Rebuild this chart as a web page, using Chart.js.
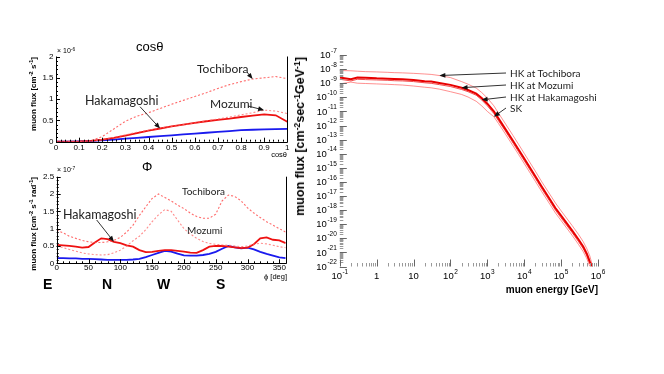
<!DOCTYPE html>
<html>
<head>
<meta charset="utf-8">
<script src="https://cdn.jsdelivr.net/npm/chart.js@4.4.1/dist/chart.umd.min.js"></script>
<style>
  html, body { margin: 0; padding: 0; background: #fff; }
  #page { position: relative; width: 664px; height: 374px; overflow: hidden; font-family: "Liberation Sans", Arial, sans-serif; }
  canvas { position: absolute; }
  .t { position: absolute; white-space: nowrap; line-height: 1; color: #000; }
  .note { font-family: Lato, "Open Sans", sans-serif; color: #222; }
  .rot { transform-origin: 0 0; transform: rotate(-90deg) translateX(-100%); }
  sup { font-size: 70%; vertical-align: 0; position: relative; top: -0.45em; }
</style>
</head>
<body>
<div id="page">
  <canvas id="cosChart" width="300" height="120" style="left:0;top:40px"></canvas>
  <canvas id="phiChart" width="300" height="115" style="left:0;top:160px"></canvas>
  <canvas id="energyChart" width="330" height="250" style="left:290px;top:40px"></canvas>

  <!-- cos(theta) panel -->
  <div class="t" style="left:136px;top:40px;font-size:13px">cosθ</div>
  <div class="t" style="left:57px;top:47px;font-size:7px">× 10<sup>-6</sup></div>
  <div class="t rot" style="left:30px;top:57px;font-size:8px;font-weight:bold">muon flux [cm<sup>-2</sup> s<sup>-1</sup>]</div>
  <div class="t" style="right:377px;top:151px;font-size:7.5px">cosθ</div>
  <div class="t note" style="left:197px;top:63px;font-size:12px">Tochibora</div>
  <div class="t note" style="left:210px;top:98px;font-size:12px">Mozumi</div>
  <div class="t note" style="left:85px;top:95px;font-size:12.5px">Hakamagoshi</div>

  <!-- phi panel -->
  <div class="t" style="left:142px;top:160px;font-size:13px">Φ</div>
  <div class="t" style="left:57px;top:166px;font-size:7px">× 10<sup>-7</sup></div>
  <div class="t rot" style="left:30px;top:177px;font-size:8px;font-weight:bold">muon flux [cm<sup>-2</sup> s<sup>-1</sup> rad<sup>-1</sup>]</div>
  <div class="t" style="right:377px;top:273px;font-size:7.5px">ϕ [deg]</div>
  <div class="t note" style="left:182px;top:186px;font-size:10px">Tochibora</div>
  <div class="t note" style="left:187px;top:225px;font-size:10px">Mozumi</div>
  <div class="t note" style="left:63px;top:209px;font-size:12.5px">Hakamagoshi</div>
  <div class="t" style="left:43px;top:277px;font-size:14px;font-weight:bold">E</div>
  <div class="t" style="left:102px;top:277px;font-size:14px;font-weight:bold">N</div>
  <div class="t" style="left:157px;top:277px;font-size:14px;font-weight:bold">W</div>
  <div class="t" style="left:216px;top:277px;font-size:14px;font-weight:bold">S</div>

  <!-- energy panel -->
  <div class="t rot" style="left:294px;top:57px;font-size:12.5px;font-weight:bold">muon flux [cm<sup>-2</sup>sec<sup>-1</sup>GeV<sup>-1</sup>]</div>
  <div class="t" style="right:66px;top:285px;font-size:10px;font-weight:bold">muon energy [GeV]</div>
  <div class="t note" style="left:510px;top:68px;font-size:10px">HK at Tochibora</div>
  <div class="t note" style="left:510px;top:80px;font-size:10px">HK at Mozumi</div>
  <div class="t note" style="left:510px;top:92px;font-size:10px">HK at Hakamagoshi</div>
  <div class="t note" style="left:510px;top:103px;font-size:10px">SK</div>
</div>

<script>
// ---- zenith distribution (x 10^-6 cm^-2 s^-1) ----
const cosBins = [0, 0.05, 0.1, 0.15, 0.2, 0.25, 0.3, 0.35, 0.4, 0.45, 0.5, 0.55, 0.6, 0.65, 0.7, 0.75, 0.8, 0.85, 0.9, 0.95, 1];
const cosTochibora = [0, 0, 0, 0.02, 0.12, 0.3, 0.48, 0.6, 0.68, 0.78, 0.88, 0.97, 1.06, 1.15, 1.25, 1.34, 1.41, 1.47, 1.5, 1.53, 1.48];
const cosMozumi = [0, 0, 0, 0.01, 0.05, 0.1, 0.16, 0.22, 0.27, 0.32, 0.36, 0.4, 0.44, 0.49, 0.53, 0.58, 0.63, 0.68, 0.74, 0.72, 0.66];
const cosHakamagoshi = [0, 0, 0.005, 0.02, 0.05, 0.09, 0.14, 0.2, 0.26, 0.31, 0.36, 0.4, 0.44, 0.48, 0.51, 0.54, 0.58, 0.61, 0.64, 0.62, 0.47];
const cosSK = [0, 0.002, 0.006, 0.015, 0.03, 0.05, 0.07, 0.09, 0.11, 0.13, 0.15, 0.17, 0.19, 0.21, 0.23, 0.25, 0.27, 0.28, 0.29, 0.295, 0.3];
const cosTicks = [0, 0.1, 0.2, 0.3, 0.4, 0.5, 0.6, 0.7, 0.8, 0.9, 1];
const cosFluxTicks = [0, 0.5, 1, 1.5, 2];

// ---- azimuth distribution (x 10^-7 cm^-2 s^-1 rad^-1) ----
const phiBins = [0, 10, 20, 30, 40, 50, 60, 70, 80, 90, 100, 110, 120, 130, 140, 150, 160, 170, 180, 190, 200, 210, 220, 230, 240, 250, 260, 270, 280, 290, 300, 310, 320, 330, 340, 350, 360];
const phiTochibora = [0.96, 0.88, 0.78, 0.72, 0.66, 0.62, 0.6, 0.6, 0.62, 0.66, 0.75, 0.9, 1.1, 1.38, 1.63, 1.87, 2.0, 1.9, 1.8, 1.68, 1.58, 1.45, 1.35, 1.3, 1.3, 1.42, 1.8, 1.97, 1.93, 1.8, 1.6, 1.45, 1.32, 1.2, 1.1, 1.0, 0.9];
const phiMozumi = [0.5, 0.45, 0.4, 0.35, 0.3, 0.27, 0.25, 0.24, 0.25, 0.3, 0.38, 0.5, 0.65, 0.78, 0.97, 1.2, 1.4, 1.55, 1.5, 1.25, 1.0, 0.85, 0.72, 0.63, 0.57, 0.55, 0.53, 0.52, 0.5, 0.48, 0.5, 0.55, 0.58, 0.56, 0.52, 0.48, 0.45];
const phiHakamagoshi = [0.53, 0.52, 0.5, 0.48, 0.45, 0.47, 0.6, 0.72, 0.7, 0.62, 0.58, 0.52, 0.48, 0.38, 0.32, 0.33, 0.36, 0.38, 0.38, 0.36, 0.34, 0.31, 0.3, 0.38, 0.48, 0.5, 0.5, 0.48, 0.46, 0.44, 0.45, 0.55, 0.72, 0.75, 0.68, 0.66, 0.58];
const phiSK = [0.15, 0.15, 0.14, 0.14, 0.13, 0.13, 0.12, 0.11, 0.1, 0.1, 0.1, 0.1, 0.11, 0.13, 0.18, 0.24, 0.3, 0.36, 0.34, 0.28, 0.23, 0.22, 0.22, 0.24, 0.27, 0.33, 0.42, 0.5, 0.46, 0.43, 0.45, 0.4, 0.33, 0.27, 0.22, 0.17, 0.15];
const phiTicks = [0, 50, 100, 150, 200, 250, 300, 350];
const phiFluxTicks = [0, 0.5, 1, 1.5, 2, 2.5];

// ---- energy spectrum (cm^-2 sec^-1 GeV^-1) ----
const energyGeV = [0.1, 0.2, 0.3, 0.5, 1, 2, 3, 5, 10, 20, 30, 50, 100, 200, 300, 500, 700, 1000, 1500, 2000, 3000, 5000, 7000, 1e4, 2e4, 3e4, 5e4, 7e4, 1e5, 2e5, 3e5, 4e5, 5e5, 6e5, 7e5];
const fluxTochibora = [7.9e-9, 7.6e-9, 7.1e-9, 6.6e-9, 6.3e-9, 5.9e-9, 5.6e-9, 5.4e-9, 5.0e-9, 4.5e-9, 4.2e-9, 3.5e-9, 2.5e-9, 1.3e-9, 8.5e-10, 4.5e-10, 2.2e-10, 8.9e-11, 2.5e-11, 7.6e-12, 1.5e-12, 1.9e-13, 4.7e-14, 1.05e-14, 5.8e-16, 1.0e-16, 1.26e-17, 3.2e-18, 8.9e-19, 7.9e-20, 1.8e-20, 5.6e-21, 1.8e-21, 5.6e-22, 1.26e-22];
const fluxMozumi = [2.5e-9, 1.9e-9, 2.5e-9, 2.4e-9, 2.2e-9, 2.1e-9, 2.0e-9, 1.9e-9, 1.7e-9, 1.4e-9, 1.3e-9, 1.05e-9, 7.6e-10, 4.8e-10, 3.3e-10, 1.8e-10, 8.9e-11, 3.5e-11, 1.0e-11, 3.2e-12, 6.3e-13, 7.9e-14, 2.0e-14, 4.5e-15, 2.5e-16, 4.5e-17, 5.6e-18, 1.4e-18, 4.0e-19, 3.5e-20, 7.9e-21, 2.5e-21, 7.9e-22, 2.2e-22, 1.0e-22];
const fluxHakamagoshi = [1.9e-9, 1.45e-9, 1.9e-9, 1.8e-9, 1.7e-9, 1.6e-9, 1.5e-9, 1.45e-9, 1.3e-9, 1.07e-9, 9.8e-10, 7.9e-10, 5.8e-10, 3.6e-10, 2.5e-10, 1.4e-10, 6.6e-11, 2.5e-11, 7.1e-12, 2.2e-12, 4.5e-13, 5.6e-14, 1.4e-14, 3.2e-15, 1.8e-16, 3.2e-17, 4.0e-18, 1.0e-18, 2.8e-19, 2.5e-20, 5.6e-21, 1.8e-21, 5.6e-22, 1.6e-22, 1.0e-22];
const fluxSK = [8.9e-10, 1.2e-9, 1.0e-9, 9.5e-10, 8.9e-10, 8.3e-10, 7.9e-10, 7.4e-10, 6.3e-10, 5.2e-10, 4.7e-10, 3.8e-10, 2.5e-10, 1.6e-10, 1.05e-10, 5.2e-11, 2.5e-11, 1.0e-11, 4.2e-12, 1.4e-12, 2.8e-13, 3.5e-14, 8.9e-15, 2.0e-15, 1.1e-16, 2.0e-17, 2.5e-18, 6.3e-19, 1.8e-19, 1.6e-20, 3.5e-21, 1.1e-21, 3.5e-22, 1.0e-22, null];
const energyTicks = [0.1, 1, 10, 100, 1e3, 1e4, 1e5, 1e6];
const fluxTicks = [1e-22, 1e-21, 1e-20, 1e-19, 1e-18, 1e-17, 1e-16, 1e-15, 1e-14, 1e-13, 1e-12, 1e-11, 1e-10, 1e-9, 1e-8, 1e-7];

const FONT = '"Liberation Sans", Arial, sans-serif';
Chart.defaults.font.family = FONT;
Chart.defaults.color = '#000';

const pts = (xs, ys) => xs.map((x, i) => ({ x: x, y: ys[i] }));

// ROOT-like frame with inward tick marks
function rootFrame(cfg) {
  return {
    id: 'rootFrame',
    afterDraw(chart) {
      const { ctx, chartArea: a, scales: { x, y } } = chart;
      ctx.save();
      ctx.lineWidth = 1;
      ctx.strokeStyle = cfg.frameColor || '#000';
      if (cfg.frame) {
        ctx.beginPath();
        ctx.moveTo(Math.round(a.left) + 0.5, a.top);
        ctx.lineTo(Math.round(a.left) + 0.5, Math.round(a.bottom) + 0.5);
        ctx.lineTo(Math.round(a.right) + 0.5, Math.round(a.bottom) + 0.5);
        ctx.lineTo(Math.round(a.right) + 0.5, a.top);
        ctx.stroke();
      }
      const tick = (list, len, horizontal, color) => {
        ctx.strokeStyle = color;
        ctx.beginPath();
        list.forEach(v => {
          if (horizontal) {
            const px = Math.round(x.getPixelForValue(v)) + 0.5;
            ctx.moveTo(px, a.bottom); ctx.lineTo(px, a.bottom - len);
          } else {
            const py = Math.round(y.getPixelForValue(v)) + 0.5;
            ctx.moveTo(a.left, py); ctx.lineTo(a.left + len, py);
          }
        });
        ctx.stroke();
      };
      tick(cfg.xMinor || [], cfg.minor, true, cfg.minorColor);
      tick(cfg.yMinor || [], cfg.minor, false, cfg.minorColor);
      tick(cfg.xMajor || [], cfg.major, true, cfg.majorColor);
      tick(cfg.yMajor || [], cfg.major, false, cfg.majorColor);
      ctx.restore();
    }
  };
}

// arrows from a label to a point of a dataset
function pointers(items) {
  return {
    id: 'pointers',
    afterDatasetsDraw(chart) {
      const ctx = chart.ctx;
      items.forEach(p => {
        const el = chart.getDatasetMeta(p.ds).data[p.i];
        const tx = el.x, ty = el.y, fx = p.from[0], fy = p.from[1];
        const ang = Math.atan2(ty - fy, tx - fx);
        const L = 6, W = 2.4;
        ctx.save();
        ctx.strokeStyle = '#333';
        ctx.fillStyle = '#111';
        ctx.lineWidth = 1;
        ctx.beginPath();
        ctx.moveTo(fx, fy);
        ctx.lineTo(tx - 3 * Math.cos(ang), ty - 3 * Math.sin(ang));
        ctx.stroke();
        ctx.beginPath();
        ctx.moveTo(tx, ty);
        ctx.lineTo(tx - L * Math.cos(ang) + W * Math.sin(ang), ty - L * Math.sin(ang) - W * Math.cos(ang));
        ctx.lineTo(tx - L * Math.cos(ang) - W * Math.sin(ang), ty - L * Math.sin(ang) + W * Math.cos(ang));
        ctx.closePath();
        ctx.fill();
        ctx.restore();
      });
    }
  };
}

// power-of-ten labels for the log axes
function drawPow(ctx, v, x, y, align) {
  const e = Math.round(Math.log10(v));
  const base = e === 0 ? '1' : '10';
  const exp = (e === 0 || e === 1) ? '' : String(e);
  ctx.font = '9.5px ' + FONT;
  const wb = ctx.measureText(base).width;
  ctx.font = '6.5px ' + FONT;
  const we = exp ? ctx.measureText(exp).width + 0.5 : 0;
  const x0 = align === 'right' ? x - wb - we : x - (wb + we) / 2;
  ctx.textAlign = 'left';
  ctx.textBaseline = 'middle';
  ctx.font = '9.5px ' + FONT;
  ctx.fillText(base, x0, y);
  if (exp) {
    ctx.font = '6.5px ' + FONT;
    ctx.fillText(exp, x0 + wb + 0.5, y - 4.5);
  }
}
const logLabels = {
  id: 'logLabels',
  afterDraw(chart) {
    const { ctx, chartArea: a, scales: { x, y } } = chart;
    ctx.save();
    ctx.fillStyle = '#000';
    fluxTicks.forEach(v => drawPow(ctx, v, a.left - 3, y.getPixelForValue(v) + 0.5, 'right'));
    energyTicks.forEach(v => drawPow(ctx, v, x.getPixelForValue(v), a.bottom + 10, 'center'));
    ctx.restore();
  }
};

const stepList = (from, to, step) => {
  const out = [];
  for (let v = from; v <= to + 1e-9; v += step) out.push(+v.toFixed(4));
  return out;
};
const logMinor = (e0, e1) => {
  const out = [];
  for (let e = e0; e <= e1; e++) for (let m = 2; m <= 9; m++) out.push(m * Math.pow(10, e));
  return out;
};

const linearAxis = (ticks, max, size, fit, pad) => ({
  type: 'linear',
  min: ticks[0],
  max: max,
  grid: { display: false, drawTicks: false },
  border: { display: false },
  afterBuildTicks: s => { s.ticks = ticks.map(v => ({ value: v })); },
  afterFit: s => { if (s.isHorizontal()) s.height = fit; else s.width = fit; },
  ticks: {
    autoSkip: false, maxRotation: 0, minRotation: 0, padding: pad,
    font: { size: size }, color: '#000',
    callback: v => String(v)
  }
});

const dotted = (data, color) => ({
  data: data, borderColor: color, borderWidth: 1.1, borderDash: [2, 2],
  pointRadius: 0, fill: false, tension: 0
});
const solid = (data, color, w) => ({
  data: data, borderColor: color, borderWidth: w,
  pointRadius: 0, fill: false, tension: 0
});

const common = {
  animation: false,
  responsive: false,
  events: [],
  plugins: { legend: { display: false }, tooltip: { enabled: false } }
};

// cos(theta) panel
new Chart(document.getElementById('cosChart'), {
  type: 'line',
  data: {
    datasets: [
      dotted(pts(cosBins, cosTochibora), 'rgba(255,70,70,0.8)'),
      dotted(pts(cosBins, cosMozumi), 'rgba(255,100,100,0.75)'),
      solid(pts(cosBins, cosHakamagoshi), '#ee1111', 1.8),
      solid(pts(cosBins, cosSK), '#1a1aee', 1.8)
    ]
  },
  options: Object.assign({}, common, {
    layout: { padding: { left: 0, right: 12.7, top: 16.5, bottom: 0 } },
    scales: {
      x: linearAxis(cosTicks, 1, 8, 18.3, 1),
      y: linearAxis(cosFluxTicks, 2, 8, 56, 2.5)
    }
  }),
  plugins: [
    rootFrame({ frame: true, major: 4, minor: 2, majorColor: '#000', minorColor: '#000',
      xMajor: cosTicks, xMinor: stepList(0, 1, 0.02), yMajor: cosFluxTicks, yMinor: stepList(0, 2, 0.1) }),
    pointers([
      { ds: 0, i: 17, from: [247, 32] },
      { ds: 1, i: 18, from: [248, 66] },
      { ds: 2, i: 9, from: [140, 66.7] }
    ])
  ]
});

// phi panel
new Chart(document.getElementById('phiChart'), {
  type: 'line',
  data: {
    datasets: [
      dotted(pts(phiBins, phiTochibora), 'rgba(255,70,70,0.8)'),
      dotted(pts(phiBins, phiMozumi), 'rgba(255,100,100,0.75)'),
      solid(pts(phiBins, phiHakamagoshi), '#ee1111', 1.8),
      solid(pts(phiBins, phiSK), '#1a1aee', 1.8)
    ]
  },
  options: Object.assign({}, common, {
    layout: { padding: { left: 0, right: 14.3, top: 16.7, bottom: 0 } },
    scales: {
      x: linearAxis(phiTicks, 360, 8, 11.7, 0),
      y: linearAxis(phiFluxTicks, 2.5, 8, 56.7, 2.5)
    }
  }),
  plugins: [
    rootFrame({ frame: true, major: 4, minor: 2, majorColor: '#000', minorColor: '#000',
      xMajor: phiTicks, xMinor: stepList(0, 360, 10), yMajor: phiFluxTicks, yMinor: stepList(0, 2.5, 0.1) }),
    pointers([{ ds: 2, i: 9, from: [96.7, 60] }])
  ]
});

// energy spectrum panel
const logAxis = (min, max, fit) => ({
  type: 'logarithmic', min: min, max: max,
  grid: { display: false, drawTicks: false }, border: { display: false },
  ticks: { display: false },
  afterFit: s => { if (s.isHorizontal()) s.height = fit; else s.width = fit; }
});
new Chart(document.getElementById('energyChart'), {
  type: 'line',
  data: {
    datasets: [
      solid(pts(energyGeV, fluxTochibora), 'rgba(255,70,70,0.6)', 1),
      solid(pts(energyGeV, fluxMozumi), '#e80000', 2),
      solid(pts(energyGeV, fluxHakamagoshi), 'rgba(240,30,30,0.8)', 1),
      solid(pts(energyGeV, fluxSK), 'rgba(255,70,70,0.6)', 1)
    ]
  },
  options: Object.assign({}, common, {
    layout: { padding: { left: 0, right: 22, top: 15, bottom: 0 } },
    scales: {
      x: logAxis(0.1, 1e6, 23.5),
      y: logAxis(1e-22, 1e-7, 49.8)
    }
  }),
  plugins: [
    rootFrame({ frame: false, major: 7, minor: 3.5, majorColor: '#666', minorColor: '#999',
      xMajor: energyTicks, xMinor: logMinor(-1, 5), yMajor: fluxTicks, yMinor: logMinor(-22, -8) }),
    logLabels,
    pointers([
      { ds: 0, i: 11, from: [216, 33] },
      { ds: 1, i: 13, from: [216, 45] },
      { ds: 2, i: 16, from: [216, 57] },
      { ds: 3, i: 18, from: [216, 68] }
    ])
  ]
});
</script>
</body>
</html>
